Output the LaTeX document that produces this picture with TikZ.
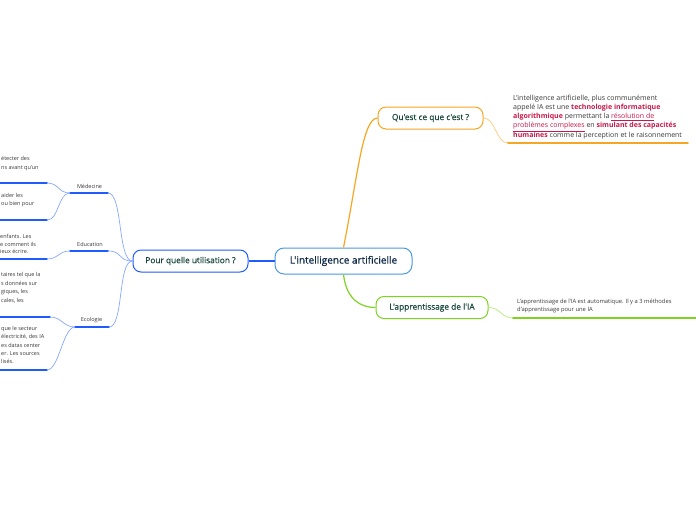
\documentclass[tikz,border=0pt]{standalone}
\usepackage{fontspec}
\setmainfont{Open Sans}
\newfontfamily\topicfont[FakeBold=0.6]{Open Sans}
\usetikzlibrary{positioning}
\definecolor{rootblue}{HTML}{4A9ADE}
\definecolor{useblue}{HTML}{1F5BFF}
\definecolor{uselight}{HTML}{86A9FF}
\definecolor{whatorange}{HTML}{F5A623}
\definecolor{whatlight}{HTML}{FFCB7A}
\definecolor{learngreen}{HTML}{7ED321}
\definecolor{learnlight}{HTML}{B4EC7A}
\definecolor{keyred}{HTML}{C8174A}
\definecolor{navytext}{HTML}{0E2A47}
\definecolor{topictext}{HTML}{1B4A3C}
\definecolor{bodytext}{HTML}{3A3A3A}
\tikzset{
  rootbox/.style={draw=rootblue,line width=1pt,rounded corners=9pt,minimum width=137pt,minimum height=26pt,inner sep=0pt,text=navytext,font=\topicfont\fontsize{10}{11}\selectfont},
  topicbox/.style={draw=#1,line width=1pt,rounded corners=8pt,minimum height=22pt,inner sep=0pt,text=topictext,font=\topicfont\fontsize{8.3}{9}\selectfont},
  sublabel/.style={text=bodytext,inner sep=0pt,font=\fontsize{5.5}{6.5}\selectfont},
  note/.style={text=bodytext,align=left,inner sep=0pt,anchor=north west,font=\fontsize{5.5}{8.2}\selectfont},
  bigline/.style={line width=1.2pt},
  thinline/.style={line width=0.7pt,uselight},
  bar/.style={line width=1.6pt,line cap=round}
}

\begin{document}
\begin{tikzpicture}[x=1pt,y=-1pt]
\fill[white] (0,0) rectangle (696,520);
\useasboundingbox (0,0) rectangle (696,520);

% main topics
\node[rootbox] (root) at (343.5,261) {L'intelligence artificielle};
\node[topicbox=useblue,minimum width=115pt] (uses) at (190.5,261) {Pour quelle utilisation ?};
\node[topicbox=whatorange,minimum width=105pt] (what) at (430.5,118) {Qu'est ce que c'est ?};
\node[topicbox=learngreen,minimum width=112pt] (learn) at (432,307.5) {L'apprentissage de l'IA};

\draw[bigline,useblue] (uses.east)--(root.west);
\draw[bigline,whatorange] (root.north) .. controls +(14,-70) and +(-15,0) .. (what.west);
\draw[bigline,learngreen] (root.south) .. controls +(3,25) and +(-15,0) .. (learn.west);

% right side notes
\coordinate (whatL) at (508,143);
\coordinate (whatR) at (688,143);
\node[note,font=\fontsize{7}{9.25}\selectfont] (whatnote) at (513,94.5)
{L'intelligence artificielle, plus communément\\
appelé IA est une \textcolor{keyred}{\bfseries technologie informatique}\\
\textcolor{keyred}{\bfseries algorithmique} permettant la \textcolor{keyred}{\underline{résolution de}}\\
\textcolor{keyred}{\underline{problèmes complexes}} en \textcolor{keyred}{\bfseries simulant des capacités}\\
\textcolor{keyred}{\bfseries humaines} comme la perception et le raisonnement};
\draw[thinline,whatlight] (what.east) .. controls +(12,0) and +(-12,0) .. (whatL);
\draw[bar,whatorange] (whatL)--(whatR);

\coordinate (learnL) at (513,318);
\coordinate (learnR) at (696,318);
\node[note,font=\fontsize{5.8}{7.6}\selectfont] (learnnote) at (517,298.8)
{L'apprentissage de l'IA est automatique. Il y a 3 méthodes\\
d'apprentissage pour une IA};
\draw[thinline,learnlight] (learn.east) .. controls +(12,0) and +(-12,0) .. (learnL);
\draw[bar,learngreen] (learnL)--(learnR);

% left side: uses
\coordinate (medL) at (70,193);
\coordinate (medR) at (108,193);
\coordinate (eduL) at (70,251);
\coordinate (eduR) at (108,251);
\coordinate (ecoL) at (75,327);
\coordinate (ecoR) at (109,327);
\node[sublabel] (med) at (89.5,186.5) {Médecine};
\node[sublabel] (edu) at (90,244) {Education};
\node[sublabel] (eco) at (91.5,320) {Ecologie};
\draw[bar,useblue] (medL)--(medR);
\draw[bar,useblue] (eduL)--(eduR);
\draw[bar,useblue] (ecoL)--(ecoR);
\draw[thinline] (uses.west) .. controls +(-15,0) and +(15,0) .. (medR);
\draw[thinline] (uses.west) .. controls +(-15,0) and +(15,0) .. (eduR);
\draw[thinline] (uses.west) .. controls +(-15,0) and +(15,0) .. (ecoR);

% cut off texts at the left border
\coordinate (medAL) at (0,183);
\coordinate (medAR) at (47,183);
\coordinate (medBL) at (0,220);
\coordinate (medBR) at (47,220);
\coordinate (eduAL) at (0,259);
\coordinate (eduAR) at (47,259);
\coordinate (ecoAL) at (0,317);
\coordinate (ecoAR) at (50,317);
\coordinate (ecoBL) at (0,370);
\coordinate (ecoBR) at (47,370);
\node[note,font=\fontsize{5.5}{9}\selectfont] (medA) at (1,156.3) {étecter des\\ns avant qu'un};
\node[note] (medB) at (1,193.3) {aider les\\ou bien pour};
\node[note,font=\fontsize{5.5}{7.6}\selectfont] (eduA) at (0,234) {enfants. Les\\e comment ils\\ieux écrire.};
\node[note,font=\fontsize{5.5}{8.6}\selectfont] (ecoA) at (1,272.3) {taires tel que la\\s données sur\\giques, les\\cales, les};
\node[note,font=\fontsize{5.5}{8.25}\selectfont] (ecoB) at (1,326.3) {que le secteur\\électricité, des IA\\es datas center\\er. Les sources\\lisés.};
\foreach \sub in {medA,medB,eduA,ecoA,ecoB}
  \draw[bar,useblue] (\sub L)--(\sub R);
\draw[thinline] (medL) .. controls +(-12,0) and +(12,0) .. (medAR);
\draw[thinline] (medL) .. controls +(-12,0) and +(12,0) .. (medBR);
\draw[thinline] (eduL) .. controls +(-12,0) and +(12,0) .. (eduAR);
\draw[thinline] (ecoL) .. controls +(-12,0) and +(12,0) .. (ecoAR);
\draw[thinline] (ecoL) .. controls +(-12,0) and +(12,0) .. (ecoBR);
\end{tikzpicture}
\end{document}
